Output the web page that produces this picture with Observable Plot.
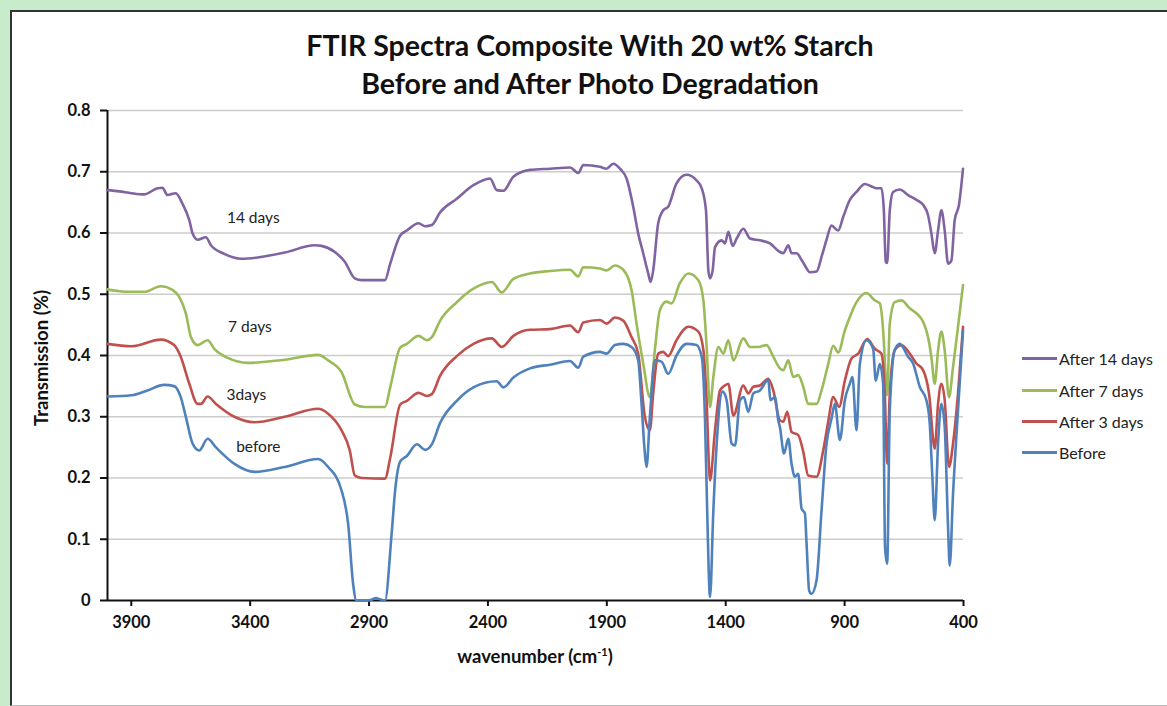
<!DOCTYPE html>
<html>
<head>
<meta charset="utf-8">
<script src="https://cdn.jsdelivr.net/npm/d3@7"></script>
<script src="https://cdn.jsdelivr.net/npm/@observablehq/plot@0.6"></script>
<style>
  html, body { margin: 0; padding: 0; }
  body { width: 1167px; height: 706px; background: #c8ebcb; position: relative; overflow: hidden; font-family: Lato, "Open Sans", sans-serif; }
  #frame { position: absolute; left: 10px; top: 10px; width: 1157px; height: 696px; box-sizing: border-box; background: #fff;
           border-left: 2px solid #333; border-top: 2px solid #333; border-bottom: 1px solid #bbb; }
  #chart { position: absolute; left: 0; top: 0; }
  #title { position: absolute; left: 240px; width: 700px; top: 26px; text-align: center; font-weight: bold; font-size: 28.5px; line-height: 38px; color: #111; }
  .axtitle { position: absolute; font-weight: bold; font-size: 18.5px; color: #111; white-space: nowrap; }
  #ytitle { left: 41px; top: 358px; transform: translate(-50%, -50%) rotate(-90deg); }
  #xtitle { left: 535px; top: 656px; transform: translate(-50%, -50%); }
  #xtitle sup { font-size: 11px; }
  .leg { position: absolute; left: 1022px; height: 20px; display: flex; align-items: center; font-size: 16px; color: #222; }
  .leg span.sw { display: inline-block; width: 35px; height: 3px; margin-right: 2px; }
  [aria-label$="axis tick"] path, [aria-label$="axis tick"] line { stroke-width: 2px; }
</style>
</head>
<body>
<div id="frame"></div>
<div id="chart"></div>
<div id="title">FTIR Spectra Composite With 20 wt% Starch<br>Before and After Photo Degradation</div>
<div id="ytitle" class="axtitle">Transmission (%)</div>
<div id="xtitle" class="axtitle">wavenumber (cm<sup>-1</sup>)</div>
<div id="legend"></div>
<script>
// ---- Data ----
const xTicks = [3900, 3400, 2900, 2400, 1900, 1400, 900, 400];
const yTicks = [0, 0.1, 0.2, 0.3, 0.4, 0.5, 0.6, 0.7, 0.8];
const seriesNames = ["After 14 days", "After 7 days", "After 3 days", "Before"];
const seriesColors = ["#8064a2", "#9bbb59", "#c0504d", "#4f81bd"];

const wn14 = [4000,3950,3900,3846,3790,3769,3748,3713,3685,3656,3642,3621,3586,3565,3509,3438,3368,3255,3128,3100,3044,3002,2960,2931,2833,2811,2769,2741,2692,2664,2636,2601,2531,2461,2391,2363,2335,2293,2223,2139,2055,2020,1999,1929,1901,1873,1845,1817,1789,1768,1747,1726,1716,1705,1684,1663,1642,1607,1565,1523,1501,1483,1473,1466,1455,1445,1417,1403,1389,1371,1354,1326,1298,1256,1214,1172,1158,1137,1123,1102,1081,1067,1046,1018,997,976,955,927,906,878,850,815,787,766,745,735,727,721,710,696,668,633,598,570,549,535,521,507,493,479,465,451,437,419,402];
const t14 = [0.670,0.668,0.665,0.663,0.673,0.674,0.662,0.665,0.648,0.621,0.599,0.589,0.593,0.580,0.566,0.558,0.560,0.568,0.580,0.579,0.569,0.553,0.526,0.523,0.523,0.550,0.596,0.604,0.616,0.611,0.613,0.634,0.656,0.678,0.689,0.670,0.669,0.692,0.703,0.705,0.707,0.698,0.711,0.708,0.705,0.713,0.705,0.689,0.643,0.599,0.567,0.534,0.520,0.539,0.616,0.637,0.643,0.681,0.695,0.686,0.673,0.637,0.539,0.526,0.539,0.577,0.588,0.583,0.602,0.579,0.591,0.607,0.591,0.588,0.583,0.569,0.567,0.580,0.567,0.567,0.556,0.547,0.536,0.537,0.561,0.589,0.612,0.604,0.626,0.654,0.667,0.680,0.676,0.673,0.673,0.637,0.553,0.551,0.637,0.667,0.671,0.662,0.654,0.646,0.629,0.599,0.567,0.604,0.637,0.604,0.550,0.555,0.621,0.646,0.705];

const wn7 = [4000,3950,3900,3846,3776,3727,3699,3670,3649,3621,3579,3551,3494,3410,3255,3114,3072,3016,2960,2917,2833,2811,2769,2741,2692,2657,2636,2601,2531,2461,2384,2342,2293,2223,2139,2055,2020,1999,1929,1901,1866,1831,1796,1775,1747,1719,1698,1677,1649,1628,1593,1557,1515,1494,1481,1466,1452,1431,1410,1389,1368,1326,1298,1263,1228,1200,1172,1158,1137,1116,1095,1074,1053,1018,997,969,948,927,899,878,850,808,773,752,738,727,721,710,689,661,626,598,570,549,535,521,507,493,479,461,444,423,402];
const t7 = [0.508,0.505,0.504,0.504,0.513,0.507,0.496,0.468,0.430,0.417,0.425,0.411,0.396,0.388,0.393,0.401,0.392,0.373,0.320,0.316,0.316,0.348,0.413,0.419,0.432,0.425,0.430,0.457,0.487,0.509,0.520,0.503,0.525,0.534,0.538,0.540,0.529,0.544,0.542,0.539,0.547,0.540,0.507,0.452,0.387,0.332,0.409,0.474,0.488,0.485,0.518,0.534,0.523,0.490,0.419,0.316,0.365,0.414,0.403,0.425,0.392,0.428,0.414,0.414,0.417,0.398,0.379,0.376,0.392,0.365,0.368,0.349,0.321,0.321,0.343,0.386,0.416,0.405,0.441,0.463,0.487,0.502,0.490,0.485,0.441,0.365,0.335,0.452,0.487,0.490,0.477,0.469,0.455,0.430,0.397,0.354,0.408,0.439,0.408,0.332,0.381,0.447,0.515];

const wn3 = [4000,3900,3776,3720,3692,3656,3621,3607,3579,3544,3466,3382,3255,3114,3072,3016,2981,2960,2931,2833,2811,2769,2741,2692,2657,2636,2601,2531,2461,2384,2342,2293,2223,2139,2055,2020,1999,1929,1901,1866,1831,1796,1768,1740,1719,1705,1684,1663,1642,1607,1557,1515,1494,1481,1466,1445,1424,1403,1389,1368,1326,1305,1284,1256,1221,1200,1172,1158,1141,1123,1095,1074,1053,1018,990,969,948,923,899,871,843,805,773,745,731,721,710,689,661,626,598,570,545,521,507,493,479,461,444,423,402];
const t3 = [0.419,0.415,0.426,0.417,0.398,0.354,0.321,0.321,0.333,0.321,0.300,0.291,0.300,0.313,0.305,0.278,0.245,0.204,0.200,0.199,0.233,0.320,0.326,0.339,0.334,0.337,0.367,0.399,0.419,0.428,0.414,0.432,0.442,0.443,0.449,0.438,0.454,0.458,0.452,0.462,0.457,0.430,0.403,0.300,0.278,0.338,0.403,0.406,0.399,0.425,0.447,0.439,0.409,0.332,0.196,0.278,0.343,0.351,0.354,0.302,0.351,0.338,0.349,0.351,0.362,0.343,0.294,0.292,0.308,0.275,0.270,0.243,0.204,0.202,0.245,0.292,0.332,0.316,0.359,0.395,0.403,0.427,0.411,0.403,0.338,0.223,0.338,0.409,0.417,0.403,0.387,0.376,0.338,0.248,0.321,0.354,0.327,0.218,0.256,0.338,0.447];

const wn0 = [4000,3900,3832,3762,3720,3692,3670,3642,3614,3579,3544,3466,3382,3255,3114,3072,3016,2988,2967,2953,2900,2870,2861,2833,2805,2790,2769,2741,2699,2664,2636,2601,2531,2461,2363,2335,2293,2223,2139,2055,2020,1999,1929,1901,1866,1831,1796,1768,1754,1740,1733,1719,1698,1670,1642,1607,1565,1523,1501,1487,1478,1466,1452,1438,1413,1396,1375,1361,1340,1324,1305,1284,1256,1221,1212,1193,1179,1172,1155,1137,1123,1109,1095,1081,1067,1060,1049,1039,1018,997,976,955,941,920,899,878,867,850,836,808,780,769,752,738,730,721,710,689,668,633,612,584,556,542,531,521,507,493,479,465,458,444,423,402];
const t0 = [0.333,0.335,0.343,0.352,0.350,0.332,0.299,0.256,0.245,0.264,0.250,0.223,0.210,0.218,0.231,0.218,0.180,0.125,0.027,0.000,0.000,0.004,0.003,0.000,0.109,0.181,0.227,0.236,0.255,0.246,0.255,0.290,0.326,0.348,0.358,0.348,0.364,0.379,0.385,0.391,0.380,0.398,0.406,0.403,0.417,0.419,0.414,0.392,0.321,0.240,0.218,0.300,0.392,0.390,0.370,0.400,0.419,0.417,0.398,0.294,0.147,0.006,0.147,0.256,0.341,0.327,0.256,0.253,0.327,0.332,0.308,0.338,0.343,0.360,0.327,0.332,0.294,0.283,0.240,0.264,0.223,0.202,0.207,0.150,0.142,0.093,0.016,0.011,0.033,0.147,0.256,0.297,0.321,0.262,0.327,0.354,0.365,0.278,0.386,0.425,0.411,0.359,0.386,0.354,0.087,0.060,0.311,0.409,0.419,0.398,0.387,0.349,0.327,0.289,0.202,0.131,0.256,0.321,0.283,0.120,0.057,0.174,0.311,0.441];

const noteLabels = ["14 days", "7 days", "3days", "before"];
const noteX = [3387, 3401, 3416, 3366];
const noteY = [0.625, 0.446, 0.336, 0.251];

// ---- Build ----
const seriesWn = [wn14, wn7, wn3, wn0];
const seriesT = [t14, t7, t3, t0];
const lineMarks = seriesWn.map((wn, i) =>
  Plot.line(wn.map((w, j) => ({w, t: seriesT[i][j]})), {x: "w", y: "t", stroke: seriesColors[i], strokeWidth: 2.6, strokeLinejoin: "round", curve: "monotone-x"})
);
const notes = noteLabels.map((label, i) => ({label, x: noteX[i], y: noteY[i]}));

const chart = Plot.plot({
  width: 1167,
  height: 706,
  marginLeft: 107,
  marginRight: 204,
  marginTop: 110,
  marginBottom: 106,
  style: {background: "transparent", fontFamily: "Lato, 'Open Sans', sans-serif", fontSize: "16.5px", fontWeight: "bold", color: "#111", overflow: "visible"},
  x: {domain: [4000, 400], ticks: xTicks, tickSize: 6, tickPadding: 10, label: null, tickFormat: d => String(d)},
  y: {domain: [0, 0.8], ticks: yTicks, tickSize: 7, tickPadding: 10, label: null, tickFormat: d => d === 0 ? "0" : d.toFixed(1)},
  marks: [
    Plot.ruleY(yTicks.filter(d => d > 0), {stroke: "#cccccc", strokeWidth: 1.6}),
    Plot.ruleX([4000], {stroke: "#111", strokeWidth: 2}),
    Plot.ruleY([0], {stroke: "#111", strokeWidth: 2}),
    ...lineMarks,
    Plot.text(notes, {x: "x", y: "y", text: "label", fill: "#222", fontSize: 15.5, fontWeight: "normal"})
  ]
});
document.getElementById("chart").appendChild(chart);

// legend
const legend = document.getElementById("legend");
const legendTop = [348, 380, 411, 442];
seriesNames.forEach((name, i) => {
  const row = document.createElement("div");
  row.className = "leg";
  row.style.top = legendTop[i] + "px";
  row.innerHTML = `<span class="sw" style="background:${seriesColors[i]}"></span><span>${name}</span>`;
  legend.appendChild(row);
});
</script>
</body>
</html>
